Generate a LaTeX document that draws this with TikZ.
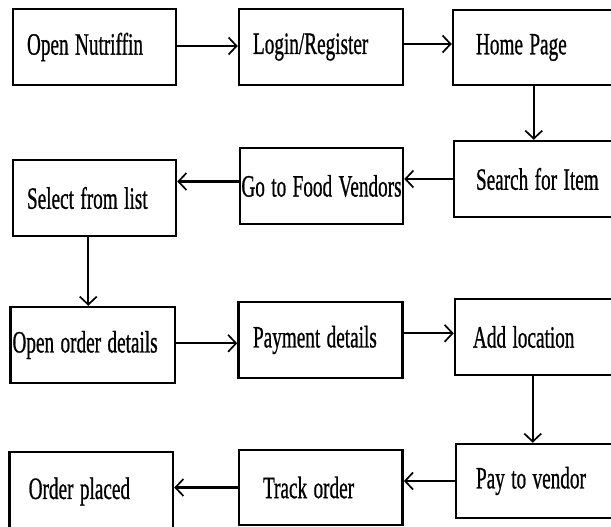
\documentclass[tikz,border=0pt]{standalone}
\usepackage{graphicx}
\usepackage{fontspec}
\setmainfont{Liberation Serif}[FakeBold=1]
\usetikzlibrary{arrows.meta}
\newcommand\sqz[1]{\scalebox{0.62}[1]{#1}}
\begin{document}
\begin{tikzpicture}[x=1pt,y=-1pt,
  box/.style={draw=black, line width=2.5pt, inner ysep=0pt, align=left,
    font=\fontsize{31}{34}\selectfont, anchor=center},
  arr/.style={draw=black, line width=2.3pt,
    -{Straight Barb[length=8pt,width=17pt,line width=1.7pt]}}]
\useasboundingbox (0,0) rectangle (611,527);
\fill[white] (0,0) rectangle (611,527);
\clip (0,0) rectangle (611,527);
% row 1
\node[box, minimum height=76pt, text width=135pt, inner xsep=14pt] (open) at (94.5,47) {\sqz{Open Nutriffin}};
\node[box, minimum height=76pt, text width=136pt, inner xsep=14pt] (login) at (321,47) {\sqz{Login/Register}};
\node[box, minimum height=75pt, text width=161pt, inner xsep=23pt] (home) at (556.5,47.5) {\sqz{Home Page}};
% row 2
\node[box, minimum height=76pt, text width=162pt, inner xsep=22pt] (search) at (557,179) {\sqz{Search for Item}};
\node[box, minimum height=76pt, text width=163pt, inner xsep=0pt, align=center] (go) at (321.5,186) {\sqz{Go to Food Vendors}};
\node[box, minimum height=76pt, text width=135pt, inner xsep=14pt] (select) at (94.5,198) {\sqz{Select from list}};
% row 3
\node[box, minimum height=76pt, text width=160.5pt, inner xsep=2pt] (openorder) at (92.75,345) {\sqz{Open order details}};
\node[box, minimum height=76pt, text width=135pt, inner xsep=14.5pt] (payment) at (320.5,340) {\sqz{Payment details}};
\node[box, minimum height=76pt, text width=169pt, inner xsep=18pt] (addloc) at (557.5,337) {\sqz{Add location}};
% row 4
\node[box, minimum height=74pt, text width=164pt, inner xsep=20pt] (pay) at (558,481) {\sqz{Pay to vendor}};
\node[box, minimum height=75pt, text width=115.6pt, inner xsep=24pt] (track) at (320.8,487.5) {\sqz{Track order}};
\node[box, minimum height=79pt, text width=125.3pt, inner xsep=19pt] (order) at (91.35,491.5) {\sqz{Order placed}};
% connectors
\draw[arr] ([yshift=1pt]open.east) -- ([yshift=1pt]open.east -| login.west);
\draw[arr] ([yshift=3pt]login.east) -- ([yshift=3pt]login.east -| home.west);
\draw[arr] ([xshift=82pt]home.south west) -- ([xshift=82pt]home.south west |- search.north);
\draw[arr] (search.west) -- (search.west -| go.east);
\draw[arr] ([yshift=4.5pt]go.west) -- ([yshift=4.5pt]go.west -| select.east);
\draw[arr] ([xshift=76.5pt]select.south west) -- ([xshift=76.5pt]select.south west |- openorder.north);
\draw[arr] ([yshift=1.7pt]openorder.east) -- ([yshift=1.7pt]openorder.east -| payment.west);
\draw[arr] ([yshift=6.7pt]payment.east) -- ([yshift=6.7pt]payment.east -| addloc.west);
\draw[arr] ([xshift=79pt]addloc.south west) -- ([xshift=79pt]addloc.south west |- pay.north);
\draw[arr] (pay.west) -- (pay.west -| track.east);
\draw[arr] (track.west) -- (track.west -| order.east);
\end{tikzpicture}
\end{document}
